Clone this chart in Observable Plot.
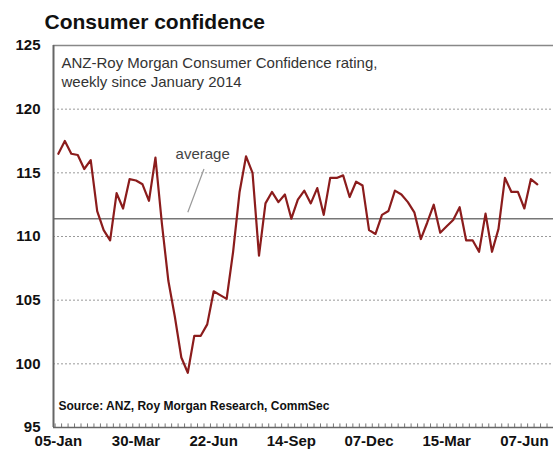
<!DOCTYPE html>
<html>
<head>
<meta charset="utf-8">
<script src="https://cdn.jsdelivr.net/npm/d3@7"></script>
<script src="https://cdn.jsdelivr.net/npm/@observablehq/plot@0.6"></script>
<style>
  html, body { margin: 0; padding: 0; background: #fff; }
  #chart { width: 553px; height: 454px; }
</style>
</head>
<body>
<div id="chart"></div>
<script>
// ANZ-Roy Morgan Consumer Confidence rating, weekly (index 0 = 05-Jan-2014)
const values = [
  116.5, 117.5, 116.5, 116.4, 115.3, 116.0, 112.0, 110.5, 109.7, 113.4,
  112.2, 114.5, 114.4, 114.1, 112.8, 116.2, 111.0, 106.5, 103.7, 100.5,
  99.3, 102.2, 102.2, 103.1, 105.7, 105.4, 105.1, 108.8, 113.5, 116.3,
  115.0, 108.5, 112.6, 113.5, 112.7, 113.3, 111.4, 112.9, 113.6, 112.6,
  113.8, 111.7, 114.6, 114.6, 114.8, 113.1, 114.3, 114.0, 110.5, 110.2,
  111.7, 112.0, 113.6, 113.3, 112.7, 111.9, 109.8, 111.1, 112.5, 110.3,
  110.8, 111.3, 112.3, 109.7, 109.7, 108.8, 111.8, 108.8, 110.6, 114.6,
  113.5, 113.5, 112.2, 114.5, 114.1
];
const tickIndex = [0, 12, 24, 36, 48, 60, 72];
const tickLabels = ["05-Jan", "30-Mar", "22-Jun", "14-Sep", "07-Dec", "15-Mar", "07-Jun"];
const yTicks = [95, 100, 105, 110, 115, 120, 125];
const gridValues = [100, 105, 110, 115, 120];
const average = 111.4;

const title = "Consumer confidence";
const subtitle = "ANZ-Roy Morgan Consumer Confidence rating,\nweekly since January 2014";
const source = "Source: ANZ, Roy Morgan Research, CommSec";

const data = values.map((v, i) => ({i, v}));
const minorTicks = d3.range(-0.5, 77, 1);

const chart = Plot.plot({
  width: 553,
  height: 454,
  marginLeft: 53,
  marginRight: 0,
  marginTop: 45,
  marginBottom: 27,
  x: {domain: [-0.75, 76.5]},
  y: {domain: [95, 125]},
  style: {fontFamily: "'Liberation Sans', Arial, sans-serif", background: "#fff", overflow: "visible"},
  marks: [
    Plot.ruleY(gridValues, {stroke: "#9a9a9a", strokeDasharray: "2,2", strokeWidth: 1}),
    Plot.ruleY([average], {stroke: "#777", strokeWidth: 1.5}),
    Plot.ruleY([125], {stroke: "#888", strokeWidth: 1.5}),
    Plot.ruleX(minorTicks, {y1: 95, y2: 95.28, stroke: "#777", strokeWidth: 1}),
    Plot.ruleY([95], {stroke: "#666", strokeWidth: 1.5}),
    Plot.ruleX([-0.75], {stroke: "#666", strokeWidth: 2}),
    Plot.line(data, {x: "i", y: "v", stroke: "#8b1c1c", strokeWidth: 2.2, strokeLinejoin: "round"}),
    Plot.link([{x1: 22.5, y1: 115.3, x2: 20.0, y2: 111.9}], {x1: "x1", y1: "y1", x2: "x2", y2: "y2", stroke: "#999", strokeWidth: 1.2}),
    Plot.text(["average"], {x: () => 22.3, y: () => 116.5, text: d => d, fontSize: 15, fill: "#444", textAnchor: "middle"}),
    Plot.axisY({ticks: yTicks, tickSize: 0, tickPadding: 13, fontSize: 15, fontWeight: "bold", fill: "#111", label: null}),
    Plot.axisX({ticks: tickIndex, tickFormat: d => tickLabels[tickIndex.indexOf(d)], tickSize: 0, tickPadding: 8, fontSize: 15, fontWeight: "bold", fill: "#111", label: null}),
    Plot.text([title], {text: d => d, frameAnchor: "top-left", dx: -9, dy: -17, lineAnchor: "bottom", textAnchor: "start", fontSize: 21, fontWeight: "bold", fill: "#111"}),
    Plot.text([subtitle], {text: d => d, frameAnchor: "top-left", dx: 8, dy: 9, lineAnchor: "top", textAnchor: "start", fontSize: 15, lineHeight: 1.25, fill: "#333"}),
    Plot.text([source], {text: d => d, frameAnchor: "bottom-left", dx: 5, dy: -21, lineAnchor: "middle", textAnchor: "start", fontSize: 12, fontWeight: "bold", fill: "#111"})
  ]
});
document.getElementById("chart").appendChild(chart);
</script>
</body>
</html>
